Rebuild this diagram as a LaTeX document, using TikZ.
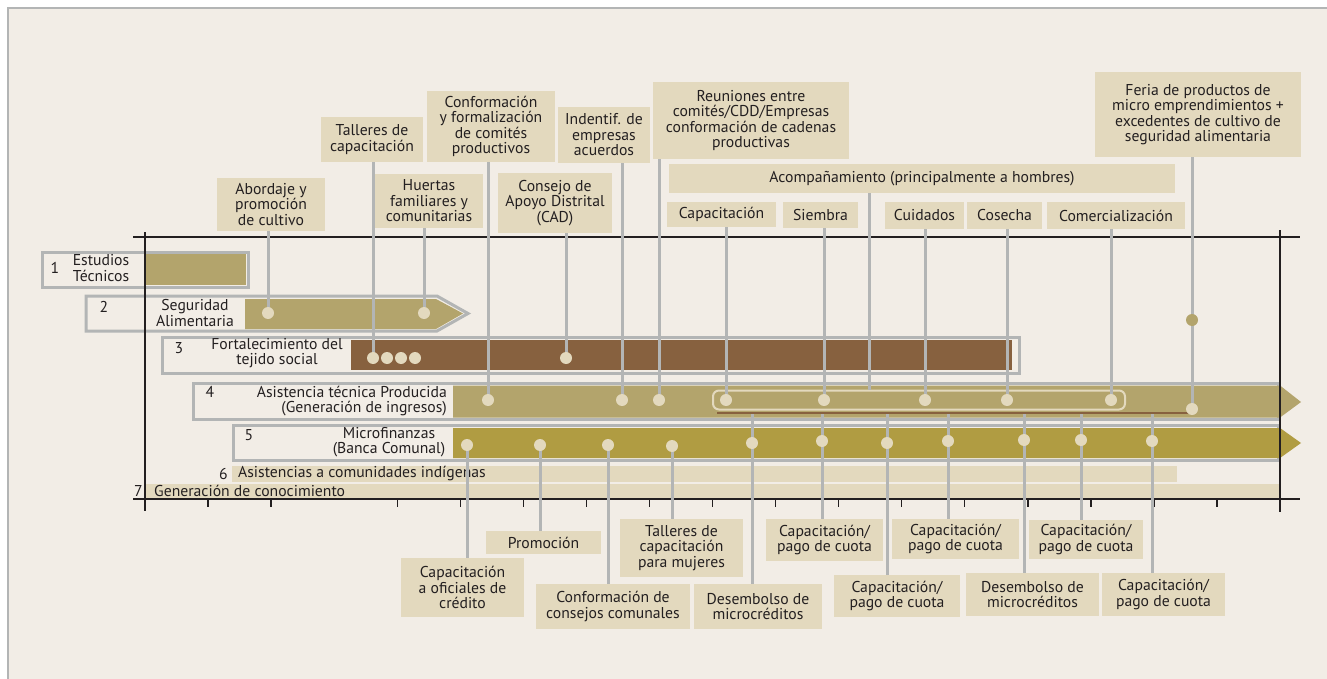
\documentclass[tikz,border=0pt]{standalone}
\usepackage{fontspec}
\setmainfont{PT Sans}

\definecolor{paper}{HTML}{F2EDE6}
\definecolor{tanbox}{HTML}{E3D9BE}
\definecolor{khaki}{HTML}{B3A46C}
\definecolor{brownbar}{HTML}{87613F}
\definecolor{goldbar}{HTML}{B09C42}
\definecolor{frame}{HTML}{B3B5B5}
\definecolor{ink}{HTML}{231F20}

\tikzset{
	lbl/.style={fill=tanbox, inner sep=0pt, align=center, text=ink, font=\fontsize{15.7}{15.5}\selectfont},
	txt/.style={inner sep=0pt, text=ink, font=\fontsize{15.7}{15.5}\selectfont},
	bead/.style={circle, fill=tanbox, inner sep=0pt, minimum size=12},
	stem/.style={draw=frame, line width=3},
	rowframe/.style={draw=frame, line width=3},
	axis/.style={draw=ink, line width=1.4},
}

\begin{document}
\begin{tikzpicture}[x=1pt,y=-1pt]
			\useasboundingbox (0,0) rectangle (1327,679);
			%page
			\fill[white] (0,0) rectangle (1327,679);
			\fill[paper] (8,8) rectangle (1327,679);
			\draw[frame, line width=2] (8,679) -- (8,8) -- (1327,8);
			
			%rows
			\draw[rowframe] (42,252) rectangle (248,287);
			\fill[khaki] (145,254) rectangle (246,285);
			
			\draw[rowframe] (86,296) -- (437,296) -- (468,313.5) -- (437,331) -- (86,331) -- cycle;
			\fill[khaki] (245,299) -- (436,299) -- (463,313.5) -- (436,329) -- (245,329) -- cycle;
			
			\draw[rowframe] (162,337) rectangle (1019,373);
			\fill[brownbar] (351,339.5) rectangle (1012,369.5);
			
			\draw[rowframe] (193,383) rectangle (1278,419);
			\fill[khaki] (453,385.5) -- (1280,385.5) -- (1301,402) -- (1280,417.5) -- (453,417.5) -- cycle;
			
			\draw[rowframe] (233,425) rectangle (1278,460);
			\fill[goldbar] (453,428) -- (1280,428) -- (1301,443) -- (1280,458) -- (453,458) -- cycle;
			
			\fill[tanbox] (232,466) rectangle (1177,482);
			\fill[tanbox] (145,484) rectangle (1280,498);
			
			%cycle of row 4
			\node (ciclo) at (919,400) [draw=tanbox, line width=2, rounded corners=6, minimum width=412, minimum height=19] {};
			\draw[brownbar, line width=2.5] (717,413) -- (1190,413);
			
			%time axis
			\draw[axis] (133,237) -- (1300,237);
			\draw[axis] (133,499) -- (1300,499);
			\draw[axis] (145,232) -- (145,511);
			\draw[axis] (1280,230) -- (1280,512);
			\foreach \i in {1,2,4,5,...,17}{
				\draw[axis] ({145+63.06*\i},499) -- ({145+63.06*\i},507);
			}
			
			%row titles
			\node (n1) at (55,268) [txt] {1};
			\node (t1) at (101,268) [txt, align=left] {Estudios\\Técnicos};
			\node (n2) at (104,307) [txt] {2};
			\node (t2) at (195,313) [txt, align=center] {Seguridad\\Alimentaria};
			\node (n3) at (179,348) [txt] {3};
			\node (t3) at (277,353) [txt, align=center] {Fortalecimiento del\\tejido social};
			\node (n4) at (210,392) [txt] {4};
			\node (t4) at (447,401) [txt, anchor=east, align=right] {Asistencia técnica Producida\\(Generación de ingresos)};
			\node (n5) at (249,435) [txt] {5};
			\node (t5) at (389,442) [txt, align=center] {Microfinanzas\\(Banca Comunal)};
			\node (n6) at (228,474) [txt, anchor=east] {6};
			\node (t6) at (238,474) [txt, anchor=west] {Asistencias a comunidades indígenas};
			\node (n7) at (143,491) [txt, anchor=east] {7};
			\node (t7) at (154,491) [txt, anchor=west] {Generación de conocimiento};
			
			%labels above
			\node (abordaje) at (271,204.5) [lbl, minimum width=108, minimum height=53] {Abordaje y\\promoción\\de cultivo};
			\node (talleres) at (372,139.5) [lbl, minimum width=102, minimum height=45] {Talleres de\\capacitación};
			\node (huertas) at (429,201) [lbl, minimum width=108, minimum height=54] {Huertas\\familiares y\\comunitarias};
			\node (comites) at (491,126.5) [lbl, minimum width=128, minimum height=71] {Conformación\\y formalización\\de comités\\productivos};
			\node (consejo) at (555,203) [lbl, minimum width=114, minimum height=60] {Consejo de\\Apoyo Distrital\\(CAD)};
			\node (empresas) at (604,135) [lbl, minimum width=92, minimum height=56] {Indentif. de\\empresas\\acuerdos};
			\node (reuniones) at (751,120.5) [lbl, minimum width=196, minimum height=77] {Reuniones entre\\comités/CDD/Empresas\\conformación de cadenas\\productivas};
			\node (acomp) at (922,178.5) [lbl, minimum width=506, minimum height=29] {Acompañamiento (principalmente a hombres)};
			\node (capac) at (721.5,214.5) [lbl, minimum width=109, minimum height=25] {Capacitación};
			\node (siembra) at (820.5,215) [lbl, minimum width=75, minimum height=26] {Siembra};
			\node (cuidados) at (924.5,215.5) [lbl, minimum width=79, minimum height=27] {Cuidados};
			\node (cosecha) at (1004.5,215.5) [lbl, minimum width=75, minimum height=27] {Cosecha};
			\node (comerc) at (1116,215.5) [lbl, minimum width=138, minimum height=27] {Comercialización};
			\node (feria) at (1198,114.5) [lbl, minimum width=206, minimum height=85] {Feria de productos de\\micro emprendimientos +\\excedentes de cultivo de\\seguridad alimentaria};
			
			%labels below
			\node (oficiales) at (462.5,587.5) [lbl, minimum width=123, minimum height=59] {Capacitación\\a oficiales de\\crédito};
			\node (promo) at (543.5,542.5) [lbl, minimum width=115, minimum height=23] {Promoción};
			\node (consejos) at (613,606.5) [lbl, minimum width=154, minimum height=45] {Conformación de\\consejos comunales};
			\node (mujeres) at (681.5,548) [lbl, minimum width=123, minimum height=58] {Talleres de\\capacitación\\para mujeres};
			\node (desemb1) at (758,606.5) [lbl, minimum width=128, minimum height=45] {Desembolso de\\microcréditos};
			\node (cuota1) at (824.5,540) [lbl, minimum width=117, minimum height=42] {Capacitación/\\pago de cuota};
			\node (cuota2) at (897,596) [lbl, minimum width=126, minimum height=42] {Capacitación/\\pago de cuota};
			\node (cuota3) at (955.5,539) [lbl, minimum width=127, minimum height=40] {Capacitación/\\pago de cuota};
			\node (desemb2) at (1032.5,594.5) [lbl, minimum width=133, minimum height=43] {Desembolso de\\microcréditos};
			\node (cuota4) at (1086,539.5) [lbl, minimum width=114, minimum height=39] {Capacitación/\\pago de cuota};
			\node (cuota5) at (1163.5,594.5) [lbl, minimum width=123, minimum height=43] {Capacitación/\\pago de cuota};
			
			%points on the rows
			\foreach \n/\x/\y in {d2a/268/313, d2b/424/313,
				d3a/373/358, d3b/387/358, d3c/401/358, d3d/415/358, d3e/566/358,
				d4a/488/400, d4b/622/400, d4c/659/400, d4d/726/400, d4e/824/400,
				d4f/925/400, d4g/1007/400, d4h/1111/400, d4i/1192/409, df/1192/320,
				d5a/467/445, d5b/540/445, d5c/608/445, d5d/672/446, d5e/752/443,
				d5f/822/441, d5g/887/443, d5h/948/441, d5i/1024/440, d5j/1081/440, d5k/1152/441}{
				\coordinate (\n) at (\x,\y);
			}
			\coordinate (rail) at (0,414);
			\coordinate (acompx) at (869,0);
			
			%stems
			\foreach \a/\b in {abordaje/d2a, talleres/d3a, huertas/d2b, comites/d4a, consejo/d3e,
				empresas/d4b, reuniones/d4c, capac/d4d, siembra/d4e, cuidados/d4f,
				cosecha/d4g, comerc/d4h, feria/d4i}{
				\draw[stem] (\a.south -| \b) -- (\b);
			}
			\draw[stem] (acomp.south -| acompx) -- (ciclo.north -| acompx);
			\foreach \a/\b in {oficiales/d5a, promo/d5b, consejos/d5c, mujeres/d5d}{
				\draw[stem] (\b) -- (\a.north -| \b);
			}
			\foreach \a/\b in {desemb1/d5e, cuota1/d5f, cuota2/d5g, cuota3/d5h,
				desemb2/d5i, cuota4/d5j, cuota5/d5k}{
				\draw[stem] (\b |- rail) -- (\a.north -| \b);
			}
			
			\foreach \n in {d2a, d2b, d3a, d3b, d3c, d3d, d3e, d4a, d4b, d4c, d4d, d4e,
				d4f, d4g, d4h, d4i, d5a, d5b, d5c, d5d, d5e, d5f, d5g, d5h, d5i, d5j, d5k}{
				\node at (\n) [bead] {};
			}
			\node at (df) [bead, fill=khaki] {};
\end{tikzpicture}
\end{document}
